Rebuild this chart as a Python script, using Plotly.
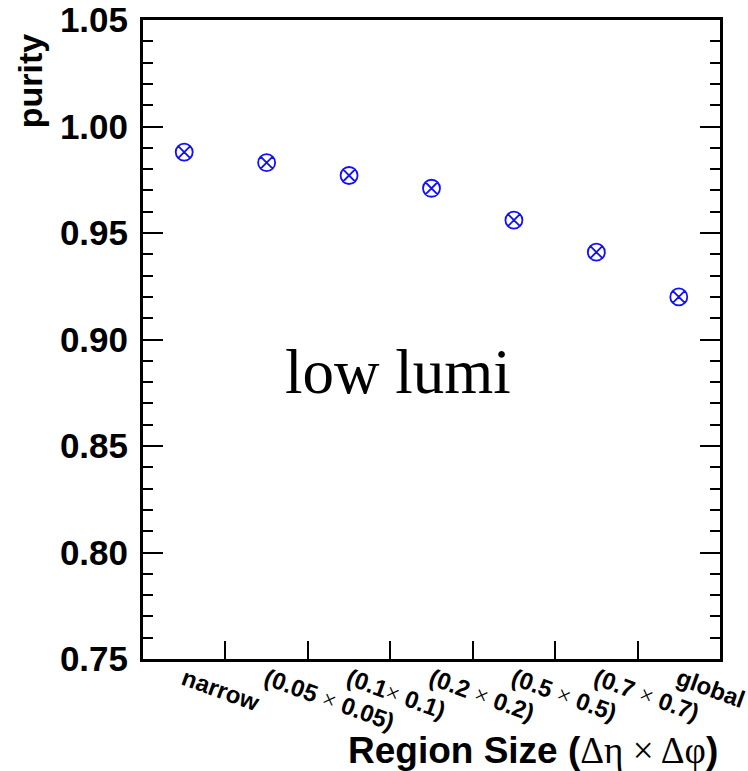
import plotly.graph_objects as go

categories = ["narrow", "(0.05 × 0.05)", "(0.1× 0.1)", "(0.2 × 0.2)",
              "(0.5 × 0.5)", "(0.7 × 0.7)", "global"]
purity = [0.988, 0.983, 0.977, 0.971, 0.956, 0.941, 0.920]
y_ticks = [0.75, 0.80, 0.85, 0.90, 0.95, 1.00, 1.05]
y_ticktext = ["0.75", "0.80", "0.85", "0.90", "0.95", "1.00", "1.05"]

serif_times = '<span style="font-family:Liberation Serif;font-weight:normal">×</span>'
x_ticktext = [c.replace("×", serif_times) for c in categories]

fig = go.Figure()
fig.add_trace(go.Scatter(
    x=categories, y=purity, mode="markers",
    marker=dict(symbol="circle-x-open", size=17, color="#1010ff",
                line=dict(width=1.8, color="#1010ff")),
    showlegend=False, cliponaxis=False,
))

bold = "Liberation Sans"
fig.update_layout(
    width=748, height=771,
    margin=dict(l=143, r=28, t=20, b=112, autoexpand=False),
    paper_bgcolor="white", plot_bgcolor="white",
    font=dict(family=bold, color="black"),
    xaxis=dict(
        type="category", range=[-0.5, 6.5], automargin=False,
        tickvals=categories, ticktext=x_ticktext,
        tickson="boundaries", ticks="inside", ticklen=18, tickwidth=1.5,
        tickcolor="black", tickangle=20,
        tickfont=dict(family=bold, size=24, color="black", weight="bold"),
        ticklabelstandoff=-6,
        showline=True, linewidth=3, linecolor="black", mirror=True,
        showgrid=False, zeroline=False,
    ),
    yaxis=dict(
        range=[0.75, 1.05], tickvals=y_ticks, ticktext=y_ticktext,
        automargin=False,
        ticks="inside", ticklen=20, tickwidth=1.5, tickcolor="black",
        minor=dict(dtick=0.01, tick0=0.75, ticks="inside", ticklen=10,
                   tickwidth=1.5, tickcolor="black", showgrid=False),
        tickfont=dict(family=bold, size=35, color="black", weight="bold"),
        ticklabelstandoff=5,
        showline=True, linewidth=3, linecolor="black", mirror="allticks",
        showgrid=False, zeroline=False,
    ),
    annotations=[
        dict(text="low lumi", xref="paper", yref="paper", x=0.442, y=0.449,
             xanchor="center", yanchor="middle", showarrow=False,
             font=dict(family="Liberation Serif", size=63, color="black")),
        dict(text="<b>purity</b>", xref="paper", yref="paper", x=-0.196, y=0.983,
             xanchor="center", yanchor="top", textangle=-90, showarrow=False,
             font=dict(family=bold, size=34, color="black")),
        dict(text="<b>Region Size (</b><span style=\"font-family:Liberation Serif\">Δη × Δφ</span><b>)</b>",
             xref="paper", yref="paper", x=1.0, y=-0.178,
             xanchor="right", yanchor="bottom", showarrow=False,
             font=dict(family=bold, size=37, color="black")),
    ],
)

fig.write_html("out.html", config={"displayModeBar": False},
               post_script="document.body.style.margin='0';document.body.style.padding='0';")
